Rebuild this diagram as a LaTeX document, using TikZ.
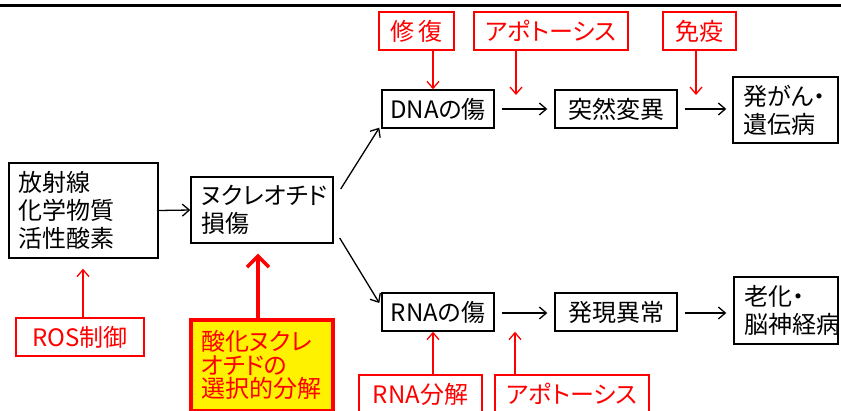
\documentclass[tikz,border=0pt]{standalone}
\usepackage{fontspec}
\setmainfont[RawFeature=+palt]{Noto Sans CJK JP}
\usetikzlibrary{arrows.meta}
\begin{document}
\begin{tikzpicture}[x=1pt,y=-1pt,
  every node/.style={font=\fontsize{24}{28}\selectfont},
  bbox/.style={draw=black, line width=1.4pt, inner sep=0pt, align=center},
  lbox/.style={draw=black, line width=1.4pt, inner ysep=0pt, inner xsep=10pt, align=left},
  rbox/.style={draw=red, line width=1.1pt, text=red, inner sep=0pt, minimum height=38pt},
  barr/.style={-{Straight Barb[length=7pt,width=12pt]}, line width=1.3pt},
  rarr/.style={draw=red, -{Straight Barb[length=7pt,width=12pt]}, line width=1.3pt},
]
\useasboundingbox (0,0) rectangle (841,410);
\clip (0,0) rectangle (841,410);
\draw[line width=3pt] (0,5) -- (841,5);
% black boxes
\node[lbox, minimum width=149pt, minimum height=95pt, text width=129pt] (src) at (83.5,210.5) {放射線\\化学物質\\活性酸素};
\node[lbox, minimum width=142pt, minimum height=66pt, text width=122pt] (nuc) at (262,210) {ヌクレオチド\\損傷};
\node[bbox, minimum width=112pt, minimum height=38pt] (dna) at (438,109) {DNAの傷};
\node[bbox, minimum width=122pt, minimum height=38pt] (mut) at (616,109) {突然変異};
\node[lbox, minimum width=105pt, minimum height=66pt, text width=84pt, inner xsep=10.5pt] (can) at (785.5,110) {発がん・\\遺伝病};
\node[bbox, minimum width=112pt, minimum height=38pt] (rna) at (438,312) {RNAの傷};
\node[bbox, minimum width=122pt, minimum height=38pt] (exp) at (616,312) {発現異常};
\node[lbox, minimum width=104pt, minimum height=67pt, text width=84pt] (age) at (786,310.5) {老化・\\脳神経病};
% red boxes
\node[rbox, minimum width=75pt] (rep) at (416.5,31) {修\hspace{4pt}復};
\node[rbox, minimum width=154pt] (apo1) at (551,31) {アポトーシス};
\node[rbox, minimum width=73pt] (imm) at (699.5,31) {免疫};
\node[rbox, minimum width=128pt] (ros) at (80,337) {ROS制御};
\node[rbox, minimum width=123pt] (rnad) at (420.5,394) {RNA分解};
\node[rbox, minimum width=154pt] (apo2) at (572,394) {アポトーシス};
\node[draw=red, line width=3.5pt, fill=yellow, text=red, anchor=north, minimum width=142pt,
      text width=122pt, inner xsep=10pt, inner ysep=11pt, align=left,
      font=\fontsize{24}{23.5}\selectfont] (yel) at (262,318) {酸化ヌクレ\\オチドの\\選択的分解};
% free ends
\coordinate (t1) at (516,95);
\coordinate (t2) at (696,95);
% black arrows
\draw[barr] (src.east) -- (nuc.west);
\draw[barr] ([shift={(7,-21)}]nuc.east) -- ([shift={(-2,-1)}]dna.south west);
\draw[barr] ([shift={(6,28)}]nuc.east) -- ([shift={(-2,-9)}]rna.west);
\draw[barr, shorten <=7pt, shorten >=7pt] (dna.east) -- (mut.west);
\draw[barr, shorten <=7pt, shorten >=6pt] (mut.east) -- (mut.east -| can.west);
\draw[barr, shorten <=7pt, shorten >=7pt] ([yshift=-1pt]rna.east) -- ([yshift=-1pt]exp.west);
\draw[barr, shorten <=7pt, shorten >=7pt] ([yshift=-1pt]exp.east) -- ([yshift=-1pt]exp.east -| age.west);
% red arrows
\draw[rarr] ([xshift=16.5pt]rep.south) -- ([xshift=-5pt]dna.north);
\draw[rarr] (apo1.south -| t1) -- (t1);
\draw[rarr] (imm.south -| t2) -- (t2);
\draw[rarr] ([xshift=3pt]ros.north) -- ([xshift=3pt, yshift=-10pt]ros.north |- src.south);
\draw[draw=red, line width=3.5pt, -{Straight Barb[length=11pt,width=22pt]}] ([xshift=-4pt]yel.north) -- ([xshift=-4pt, yshift=-10pt]yel.north |- nuc.south);
\draw[rarr] ([xshift=12.5pt]rnad.north) -- ([xshift=-5pt]rna.south);
\draw[rarr] ([xshift=-57pt]apo2.north) -- ([xshift=-57pt]apo2.north |- exp.south);
\end{tikzpicture}
\end{document}
